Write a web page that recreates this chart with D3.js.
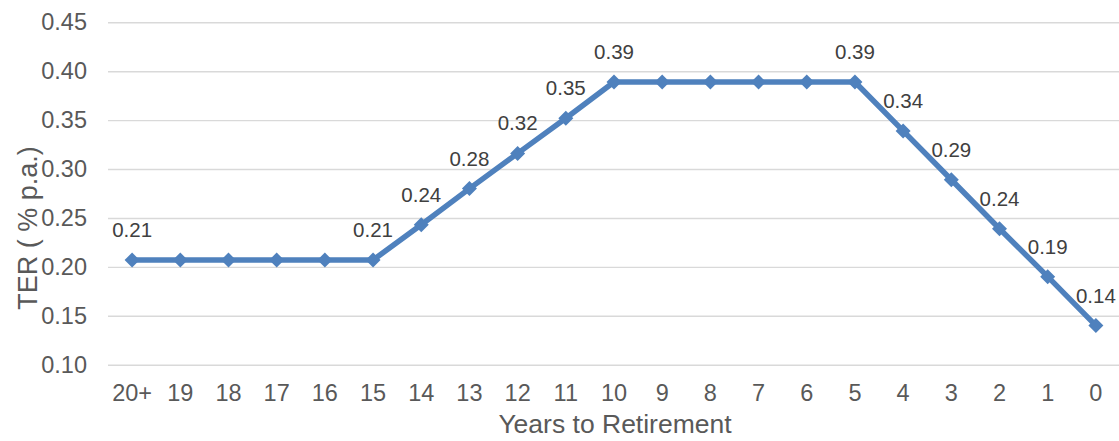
<!DOCTYPE html>
<html><head><meta charset="utf-8">
<script src="https://cdn.jsdelivr.net/npm/d3@7"></script>
<style>body{margin:0;background:#fff;} svg{display:block;font-family:"Liberation Sans",Arial,sans-serif;}</style>
</head><body>
<svg id="c" width="1119" height="441"></svg>
<script>
const categories = ["20+","19","18","17","16","15","14","13","12","11","10","9","8","7","6","5","4","3","2","1","0"];
const terValues = [0.207,0.207,0.207,0.207,0.207,0.207,0.243,0.280,0.316,0.352,0.389,0.389,0.389,0.389,0.389,0.389,0.339,0.289,0.239,0.190,0.140];
const dataLabels = ["0.21","","","","","0.21","0.24","0.28","0.32","0.35","0.39","","","","","0.39","0.34","0.29","0.24","0.19","0.14"];
const yTicks = [0.10,0.15,0.20,0.25,0.30,0.35,0.40,0.45];

const svg = d3.select("#c");
const L = 108, R = 1120, T = 22.3, B = 364.7;
const x = d3.scaleBand().domain(categories).range([L, R]);
const y = d3.scaleLinear().domain([0.10, 0.45]).range([B, T]);

// gridlines
const gy = d3.axisLeft(y).tickValues(yTicks).tickSize(-(R - L)).tickFormat("");
svg.append("g").attr("transform", `translate(${L},0)`).call(gy)
  .call(g => g.select(".domain").remove())
  .call(g => g.selectAll("line").attr("stroke", "#d9d9d9").attr("stroke-width", 1.4));

// y tick labels
const ya = d3.axisLeft(y).tickValues(yTicks).tickSize(0).tickPadding(21).tickFormat(d3.format(".2f"));
svg.append("g").attr("transform", `translate(${L},0)`).call(ya)
  .call(g => g.select(".domain").remove())
  .call(g => g.selectAll("text").attr("fill", "#595959").style("font-size", "23.5px").attr("font-family", null));

// x tick labels
const xa = d3.axisBottom(x).tickSize(0).tickPadding(20);
svg.append("g").attr("transform", `translate(0,${B})`).call(xa)
  .call(g => g.select(".domain").remove())
  .call(g => g.selectAll("text").attr("fill", "#595959").style("font-size", "23.5px").attr("font-family", null));

// axis titles
svg.append("text").attr("x", 615).attr("y", 433).attr("text-anchor", "middle")
  .attr("fill", "#595959").style("font-size", "26.5px").text("Years to Retirement");
svg.append("text").attr("transform", `translate(37,228) rotate(-90)`).attr("text-anchor", "middle")
  .attr("fill", "#595959").style("font-size", "27px").text("TER ( % p.a.)");

const cx = d => x(d) + x.bandwidth() / 2;
const pts = categories.map((c, i) => ({c, v: terValues[i], lab: dataLabels[i]}));

svg.append("path").datum(pts)
  .attr("fill", "none").attr("stroke", "#4f81bd").attr("stroke-width", 5.5).attr("stroke-linejoin", "round")
  .attr("d", d3.line().x(d => cx(d.c)).y(d => y(d.v)));

svg.selectAll(".m").data(pts).enter().append("path")
  .attr("transform", d => `translate(${cx(d.c)},${y(d.v)})`)
  .attr("d", "M0,-7.5L7.5,0L0,7.5L-7.5,0Z").attr("fill", "#4f81bd");

svg.selectAll(".lab").data(pts.filter(d => d.lab)).enter().append("text")
  .attr("x", d => cx(d.c)).attr("y", d => y(d.v) - 23)
  .attr("text-anchor", "middle").attr("fill", "#404040").style("font-size", "20.5px")
  .text(d => d.lab);
</script>
</body></html>
